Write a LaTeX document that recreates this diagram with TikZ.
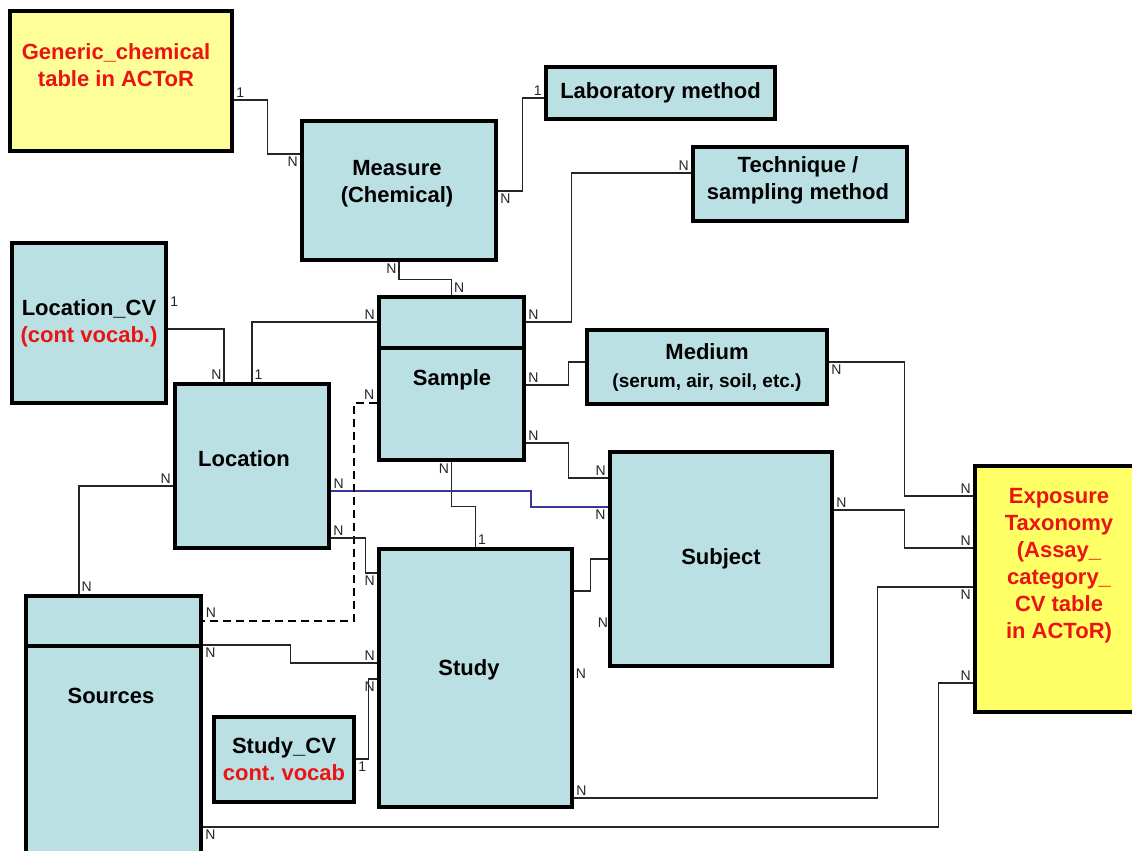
\documentclass[tikz,border=0pt]{standalone}
\usepackage{fontspec}
\setmainfont{Liberation Sans}
\definecolor{entityfill}{RGB}{186,224,228}
\definecolor{chemyellow}{RGB}{255,255,153}
\definecolor{taxyellow}{RGB}{255,255,102}
\definecolor{vocabred}{RGB}{235,20,20}
\definecolor{linkblue}{RGB}{55,55,155}
\tikzset{
  entity/.style={draw=black,line width=3.5pt,fill=entityfill,inner sep=0pt,align=center,font=\bfseries\fontsize{22}{27}\selectfont},
  title/.style={align=center,font=\bfseries\fontsize{22}{27}\selectfont},
  link/.style={draw=black!85,line width=1.2pt},
  dashline/.style={draw=black,line width=2.2pt,dash pattern=on 8pt off 5pt},
  card/.style={font=\fontsize{14}{14}\selectfont,inner sep=2pt,text=black!85},
}
\begin{document}
\begin{tikzpicture}[x=1pt,y=-1pt]
	\clip (0,0) rectangle (1132,851);
	\fill[white] (0,0) rectangle (1132,851);
	% tables
	\node[entity,fill=chemyellow,minimum width=222,minimum height=140](generic) at (121,81){};
	\node[title,text=vocabred](generictxt) at (116,65){Generic\_chemical\\table in ACToR};
	\node[entity,minimum width=194,minimum height=139](measure) at (399,190.5){};
	\node[title](measuretxt) at (397,184){Measure\\(Chemical)};
	\node[entity,minimum width=229,minimum height=52](labmethod) at (660.5,93){Laboratory method};
	\node[entity,minimum width=214,minimum height=74](technique) at (800,184){};
	\node[title](techniquetxt) at (798,180){Technique /\\sampling method};
	\node[entity,minimum width=154,minimum height=160](locationcv) at (89,323){Location\_CV\\\textcolor{vocabred}{(cont vocab.)}};
	\node[entity,minimum width=145,minimum height=163](sample) at (451.5,378.5){};
	\node[title](sampletxt) at (452,380){Sample};
	\node[entity,minimum width=240,minimum height=74](medium) at (707,367){Medium\\[1pt]{\fontsize{19}{22}\selectfont (serum, air, soil, etc.)}};
	\node[entity,minimum width=154,minimum height=164](location) at (252,466){};
	\node[title](locationtxt) at (244,459){Location};
	\node[entity,minimum width=222,minimum height=214](subject) at (721,559){Subject};
	\node[entity,fill=taxyellow,minimum width=168,minimum height=246](exposure) at (1059,589){};
	\node[title,text=vocabred](exposuretxt) at (1059,566){Exposure\\Taxonomy\\(Assay\_\\category\_\\CV table\\in ACToR)};
	\node[entity,minimum width=193,minimum height=258](study) at (475.5,678){};
	\node[title](studytxt) at (469,670){Study};
	\node[entity,minimum width=175,minimum height=274](sources) at (113.5,733){};
	\node[title](sourcestxt) at (111,696){Sources};
	\node[entity,minimum width=140,minimum height=85](studycv) at (284,759.5){Study\_CV\\\textcolor{vocabred}{cont.\ vocab}};
	\draw[line width=3.5pt](sample.west |- 0,348)--(sample.east |- 0,348);
	\draw[line width=3.5pt](sources.west |- 0,646)--(sources.east |- 0,646);
	% relations
	\draw[link](generic.east |- 0,100) node[card,above right]{1} -- ++(34,0) |- (measure.west |- 0,154) node[card,below left]{N};
	\draw[link](measure.east |- 0,191) node[card,below right]{N} -- ++(25,0) |- (labmethod.west |- 0,98) node[card,above left]{1};
	\draw[link](measure.south) node[card,below left]{N} -- ++(0,18) -| (sample.north) node[card,above right]{N};
	\draw[link](sample.east |- 0,322) node[card,above right]{N} -- ++(46,0) |- (technique.west |- 0,173) node[card,above left]{N};
	\draw[link](locationcv.east |- 0,329) node[card,above right,yshift=20]{1} -| (location.north -| 224,0) node[card,above left]{N};
	\draw[link](location.north) node[card,above right]{1} |- (sample.west |- 0,322) node[card,above left]{N};
	\draw[link](sample.east |- 0,385) node[card,above right]{N} -- ++(43,0) |- (medium.west |- 0,362);
	\draw[link](sample.east |- 0,443) node[card,above right]{N} -- ++(43,0) |- (subject.west |- 0,478) node[card,above left]{N};
	\draw[link](sample.south) node[card,below left]{N} -- ++(0,45) -| (study.north) node[card,above right]{1};
	\draw[link,draw=linkblue,line width=1.6pt](location.east |- 0,491) node[card,above right]{N} -- ++(200,0) |- (subject.west |- 0,507) node[card,below left]{N};
	\draw[dashline](sample.west |- 0,403) node[card,above left]{N} -- ++(-23,0) |- (sources.east |- 0,621) node[card,above right]{N};
	\draw[link](location.west |- 0,486) node[card,above left]{N} -| (sources.north -| 79,0) node[card,above right]{N};
	\draw[link](location.east |- 0,538) node[card,above right]{N} -- ++(35,0) |- (study.west |- 0,573) node[card,below left]{N};
	\draw[link](sources.east |- 0,645) node[card,below right]{N} -- ++(88,0) |- (study.west |- 0,663) node[card,above left]{N};
	\draw[link](studycv.east |- 0,759) node[card,below right]{1} -- ++(13,0) |- (study.west |- 0,679) node[card,below left]{N};
	\draw[link](study.east |- 0,591) -- ++(17,0) |- (subject.west |- 0,559);
	\node[card](studyN) at (581,674){N};
	\node[card](subjectN) at (603,623){N};
	\draw[link](subject.east |- 0,510) node[card,above right]{N} -- ++(71,0) |- (exposure.west |- 0,548) node[card,above left]{N};
	\draw[link](medium.east |- 0,362) node[card,below right]{N} -- ++(76,0) |- (exposure.west |- 0,496) node[card,above left]{N};
	\draw[link](study.east |- 0,798) node[card,above right]{N} -- ++(304,0) |- (exposure.west |- 0,587) node[card,below left]{N};
	\draw[link](sources.east |- 0,827) node[card,below right]{N} -- ++(736,0) |- (exposure.west |- 0,683) node[card,above left]{N};
\end{tikzpicture}
\end{document}
